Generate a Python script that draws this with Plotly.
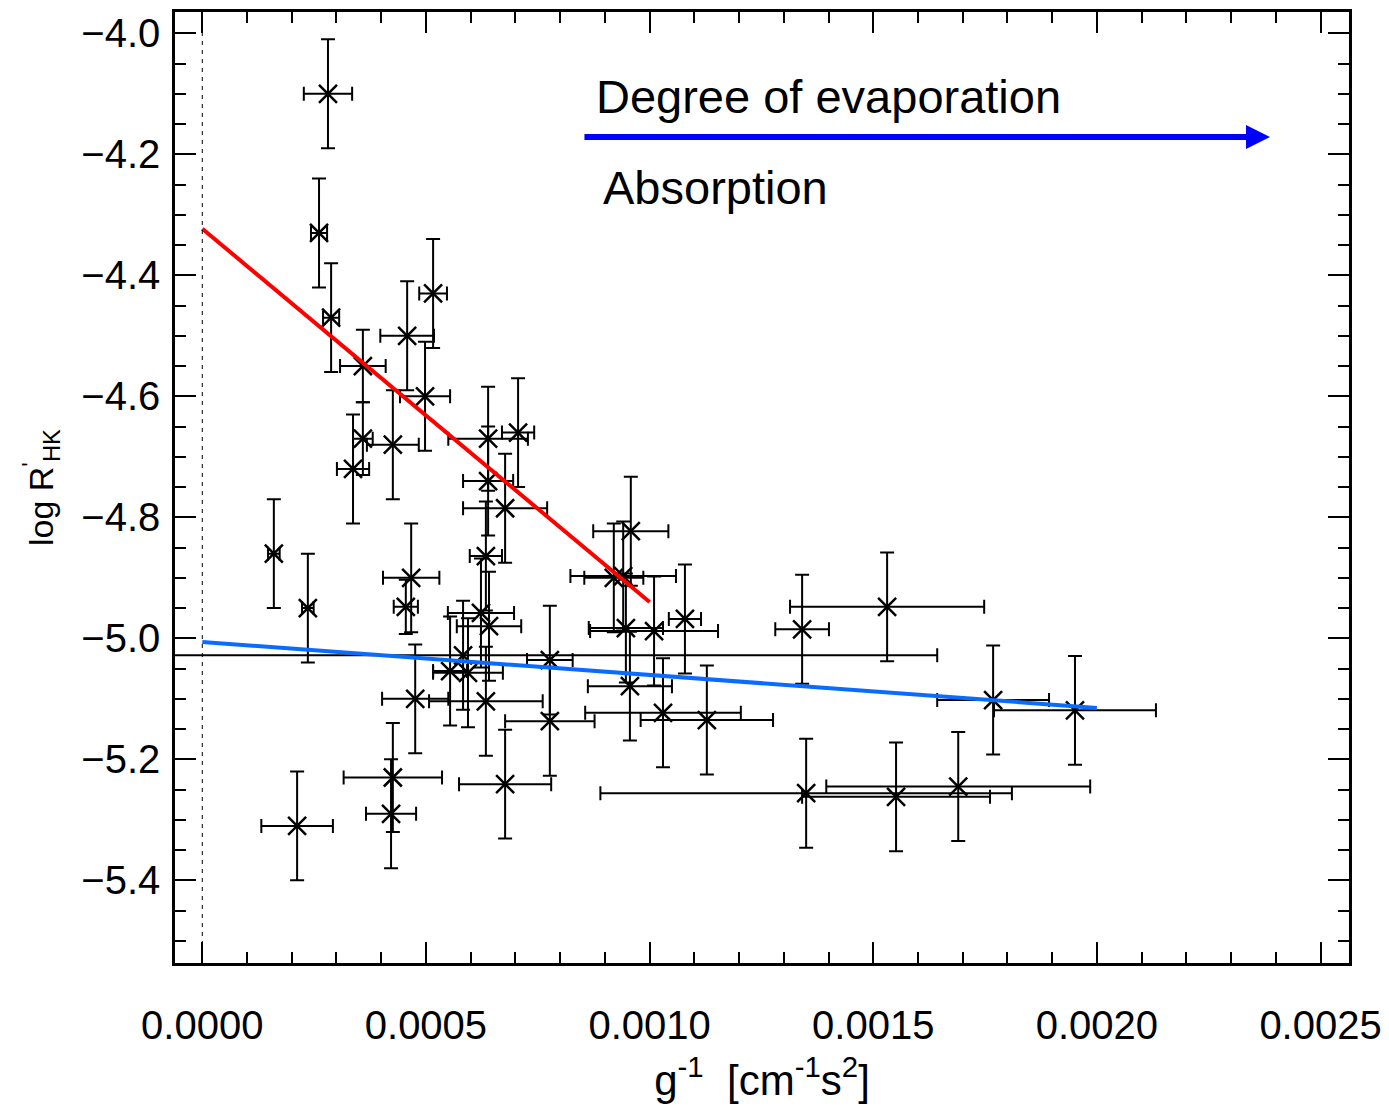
import plotly.graph_objects as go

# ---- data ----
g_inv = [0.000281, 0.000261, 0.000288, 0.000516, 0.000458, 0.000359, 0.000498, 0.000359,
         0.000426, 0.000337, 0.000639, 0.000706, 0.000639, 0.000677, 0.000634, 0.000160,
         0.000236, 0.000467, 0.000455, 0.000476, 0.000426, 0.000422, 0.000212, 0.000623,
         0.000641, 0.000583, 0.000554, 0.000594, 0.000634, 0.000777, 0.000777, 0.000677,
         0.000958, 0.000920, 0.000941, 0.000947, 0.001010, 0.001079, 0.000956, 0.001030,
         0.001128, 0.001341, 0.001531, 0.001768, 0.001951, 0.001350, 0.001551, 0.001690]
log_rhk = [-4.10, -4.33, -4.47, -4.43, -4.50, -4.55, -4.60, -4.67,
           -4.68, -4.72, -4.67, -4.66, -4.74, -4.785, -4.864, -4.86,
           -4.95, -4.90, -4.948, -5.10, -5.23, -5.29, -5.31, -4.958,
           -4.98, -5.028, -5.054, -5.057, -5.104, -5.036, -5.137, -5.241,
           -4.823, -4.90, -4.897, -4.983, -4.988, -4.968, -5.079, -5.123,
           -5.135, -4.985, -4.948, -5.102, -5.119, -5.256, -5.262, -5.245]
g_inv_err = [0.000054, 0.000018, 0.000018, 0.000031, 0.000060, 0.000051, 0.000056, 0.000022,
             0.000058, 0.000036, 0.000089, 0.000036, 0.000056, 0.000094, 0.000036, 0.000013,
             0.000013, 0.000063, 0.000027, 0.000074, 0.000110, 0.000056, 0.000080, 0.000074,
             0.000072, 0.001060, 0.000038, 0.000078, 0.000127, 0.000051, 0.000100, 0.000103,
             0.000084, 0.000066, 0.000118, 0.000083, 0.000143, 0.000036, 0.000094, 0.000174,
             0.000148, 0.000060, 0.000217, 0.000125, 0.000181, 0.000460, 0.000210, 0.000295]
log_rhk_err = [0.09, 0.09, 0.09, 0.09, 0.09, 0.06, 0.09, 0.06,
               0.09, 0.09, 0.086, 0.09, 0.09, 0.09, 0.09, 0.09,
               0.09, 0.09, 0.045, 0.09, 0.09, 0.09, 0.09, 0.09,
               0.09, 0.09, 0.09, 0.09, 0.09, 0.09, 0.09, 0.09,
               0.09, 0.09, 0.09, 0.09, 0.09, 0.09, 0.09, 0.09,
               0.09, 0.09, 0.09, 0.09, 0.09, 0.09, 0.09, 0.09]

red_fit_x = [0.0, 0.0010]
red_fit_y = [-4.323, -4.940]
blue_fit_x = [0.0, 0.0020]
blue_fit_y = [-5.006, -5.115]

x_ticks = [0.0, 0.0005, 0.0010, 0.0015, 0.0020, 0.0025]
y_ticks = [-4.0, -4.2, -4.4, -4.6, -4.8, -5.0, -5.2, -5.4]

FONT = "Liberation Sans, Arial, Helvetica, sans-serif"

fig = go.Figure()

fig.add_trace(go.Scatter(
    x=g_inv, y=log_rhk, mode="markers",
    marker=dict(symbol="x-thin", size=18, color="black",
                line=dict(width=2.5, color="black")),
    error_x=dict(type="data", array=g_inv_err, visible=True,
                 color="black", thickness=2, width=7),
    error_y=dict(type="data", array=log_rhk_err, visible=True,
                 color="black", thickness=2, width=7),
    showlegend=False, cliponaxis=True,
))

fig.add_trace(go.Scatter(x=red_fit_x, y=red_fit_y, mode="lines",
                         line=dict(color="#FF0000", width=4), showlegend=False))
fig.add_trace(go.Scatter(x=blue_fit_x, y=blue_fit_y, mode="lines",
                         line=dict(color="#0A6CFF", width=4), showlegend=False))

# dotted vertical line at x = 0
fig.add_shape(type="line", xref="x", yref="paper", x0=0, x1=0, y0=0, y1=1,
              line=dict(color="black", width=1, dash="4px,5px"))

# arrow + texts
fig.add_annotation(x=0.002387, y=-4.1714, ax=0.000851, ay=-4.1714,
                   xref="x", yref="y", axref="x", ayref="y", text="",
                   showarrow=True, arrowhead=2, arrowsize=0.8, arrowwidth=6,
                   arrowcolor="#0000FF")
fig.add_annotation(x=0.000875, y=-4.104, xref="x", yref="y",
                   text="Degree of evaporation", showarrow=False,
                   xanchor="left", yanchor="middle",
                   font=dict(family=FONT, size=47, color="black"))
fig.add_annotation(x=0.000892, y=-4.255, xref="x", yref="y",
                   text="Absorption", showarrow=False,
                   xanchor="left", yanchor="middle",
                   font=dict(family=FONT, size=47, color="black"))

axis_common = dict(
    showline=True, linewidth=2.5, linecolor="black", mirror="ticks",
    ticks="inside", ticklen=21, tickwidth=2, tickcolor="black",
    showgrid=False, zeroline=False,
    tickfont=dict(family=FONT, size=40, color="black"),
)

fig.update_xaxes(
    range=[-0.000061, 0.0025636], tickvals=x_ticks, tickformat=".4f",
    minor=dict(dtick=0.0001, tick0=0, ticks="inside", ticklen=11, tickwidth=2,
               tickcolor="black", showgrid=False),
    ticklabelstandoff=25,
    title=dict(text="g<sup>-1</sup>\u00a0\u00a0[cm<sup>-1</sup>s<sup>2</sup>]",
               font=dict(family=FONT, size=42, color="black"), standoff=20),
    **axis_common,
)
fig.update_yaxes(
    range=[-5.5366, -3.9648], tickvals=y_ticks, tickformat=".1f",
    minor=dict(dtick=0.05, tick0=-4.0, ticks="inside", ticklen=11, tickwidth=2,
               tickcolor="black", showgrid=False),
    ticklabelstandoff=4,
    title=dict(text="log R<sup>'</sup><sub>HK</sub>",
               font=dict(family=FONT, size=34, color="black"), standoff=18),
    **axis_common,
)

fig.update_layout(
    width=1389, height=1106,
    margin=dict(l=175, r=40, t=12, b=143, autoexpand=False),
    paper_bgcolor="white", plot_bgcolor="white",
    font=dict(family=FONT, color="black"),
)

fig.write_html("out.html")
